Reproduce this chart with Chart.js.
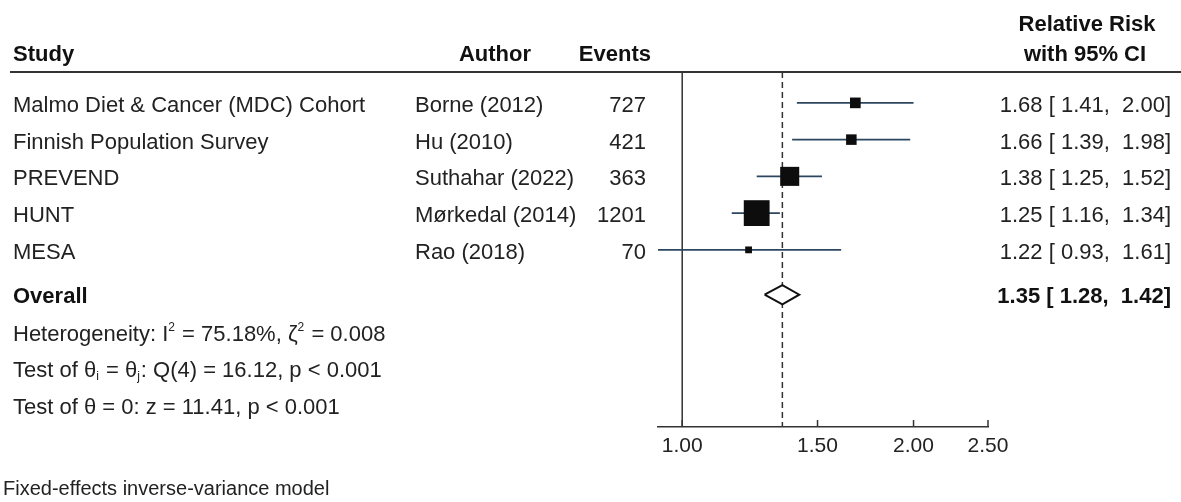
<!DOCTYPE html>
<html>
<head>
<meta charset="utf-8">
<script src="https://cdn.jsdelivr.net/npm/chart.js@4.4.1/dist/chart.umd.min.js"></script>
<style>
  html, body { margin: 0; padding: 0; background: #ffffff; }
  canvas { display: block; }
</style>
</head>
<body>
<canvas id="forest" width="1181" height="502"></canvas>
<script>
// Study rows
const studies = ['Malmo Diet & Cancer (MDC) Cohort', 'Finnish Population Survey', 'PREVEND', 'HUNT', 'MESA'];
const authors = ['Borne (2012)', 'Hu (2010)', 'Suthahar (2022)', 'Mørkedal (2014)', 'Rao (2018)'];
const events = [727, 421, 363, 1201, 70];
const riskRatio = [1.68, 1.66, 1.38, 1.25, 1.22];
const ciLower = [1.41, 1.39, 1.25, 1.16, 0.93];
const ciUpper = [2.00, 1.98, 1.52, 1.34, 1.61];

// Pooled estimate
const overallLabel = 'Overall';
const overallRR = 1.35;
const overallLower = 1.28;
const overallUpper = 1.42;

// Axis
const tickValues = [1, 1.5, 2, 2.5];
const tickLabels = ['1.00', '1.50', '2.00', '2.50'];

// Column headers and footnotes
const headerStudy = 'Study';
const headerAuthor = 'Author';
const headerEvents = 'Events';
const headerEffect = ['Relative Risk', 'with 95% CI'];
const statLines = [
  [['Heterogeneity: I'], ['2', 'sup'], [' = 75.18%, ζ'], ['2', 'sup'], [' = 0.008']],
  [['Test of θ'], ['i', 'sub'], [' = θ'], ['j', 'sub'], [': Q(4) = 16.12, p < 0.001']],
  [['Test of θ = 0: z = 11.41, p < 0.001']]
];
const modelNote = 'Fixed-effects inverse-variance model';

// ---- layout / style ----
const FONT = '"Liberation Sans", Arial, Helvetica, sans-serif';
const TEXT = '#222222';
const BOLD = '#111111';
const LINE = '#333333';
const CI_COLOR = '#2c4660';
const Y_MIN = -0.84, Y_MAX = 8.82;      // row units, row 0 at top
const OVERALL_ROW = 5.22;
const STATS_ROW = 6.25;
const DIAMOND_HALF = 0.26;

const fmt = v => v.toFixed(2);
const effectText = (e, l, u) => `${fmt(e)} [ ${fmt(l)},  ${fmt(u)}]`;

// marker side proportional to sqrt of inverse-variance weight
const markerRadius = riskRatio.map((_, i) => {
  const se = (Math.log(ciUpper[i]) - Math.log(ciLower[i])) / (2 * 1.959964);
  const side = 0.95 / se;
  return side / Math.SQRT2;
});

const ciDatasets = riskRatio.map((_, i) => ({
  type: 'line',
  data: [{ x: ciLower[i], y: i }, { x: ciUpper[i], y: i }],
  borderColor: CI_COLOR,
  borderWidth: 1.6,
  pointRadius: 0,
  fill: false,
  order: 2
}));

const datasets = [
  {
    type: 'line',
    label: 'studies',
    data: riskRatio.map((v, i) => ({ x: v, y: i })),
    showLine: false,
    pointStyle: 'rect',
    pointRadius: markerRadius,
    pointBackgroundColor: '#0d0d0d',
    pointBorderWidth: 0,
    order: 0
  },
  {
    type: 'line',
    label: 'overall',
    data: [
      { x: overallLower, y: OVERALL_ROW },
      { x: overallRR, y: OVERALL_ROW - DIAMOND_HALF },
      { x: overallUpper, y: OVERALL_ROW },
      { x: overallRR, y: OVERALL_ROW + DIAMOND_HALF },
      { x: overallLower, y: OVERALL_ROW }
    ],
    borderColor: '#111111',
    borderWidth: 2,
    backgroundColor: '#ffffff',
    fill: 'shape',
    tension: 0,
    pointRadius: 0,
    order: 1
  },
  ...ciDatasets,
  {
    type: 'line',
    label: 'pooled reference',
    data: [{ x: overallRR, y: Y_MIN }, { x: overallRR, y: Y_MAX }],
    borderColor: LINE,
    borderWidth: 1.5,
    borderDash: [6, 4],
    pointRadius: 0,
    fill: false,
    order: 3
  },
  {
    type: 'line',
    label: 'no effect',
    data: [{ x: 1, y: Y_MIN }, { x: 1, y: Y_MAX }],
    borderColor: LINE,
    borderWidth: 1.5,
    pointRadius: 0,
    fill: false,
    order: 4
  }
];

function drawRich(ctx, segs, x, y, size, weight) {
  ctx.textAlign = 'left';
  ctx.textBaseline = 'alphabetic';
  let cx = x;
  for (const [t, kind] of segs) {
    let s = size, dy = 0;
    if (kind === 'sup') { s = Math.round(size * 0.55); dy = -size * 0.42; }
    if (kind === 'sub') { s = Math.round(size * 0.55); dy = size * 0.12; }
    ctx.font = `${weight} ${s}px ${FONT}`;
    ctx.fillText(t, cx, y + dy);
    cx += ctx.measureText(t).width + (kind ? 1 : 0);
  }
}

const forestText = {
  id: 'forestText',
  afterDraw(chart) {
    const { ctx, scales: { x, y } } = chart;
    const area = chart.chartArea;
    ctx.save();

    // header rule
    ctx.strokeStyle = LINE;
    ctx.lineWidth = 2;
    ctx.beginPath();
    ctx.moveTo(10, area.top);
    ctx.lineTo(chart.width, area.top);
    ctx.stroke();

    // inward tick marks on the x axis
    ctx.lineWidth = 1.5;
    tickValues.forEach(v => {
      const px = x.getPixelForValue(v);
      ctx.beginPath();
      ctx.moveTo(px, area.bottom);
      ctx.lineTo(px, area.bottom - 7);
      ctx.stroke();
    });

    // headers
    ctx.fillStyle = BOLD;
    ctx.font = `bold 22px ${FONT}`;
    ctx.textBaseline = 'alphabetic';
    ctx.textAlign = 'left';
    ctx.fillText(headerStudy, 13, 61);
    ctx.textAlign = 'center';
    ctx.fillText(headerAuthor, 495, 61);
    ctx.textAlign = 'right';
    ctx.fillText(headerEvents, 651, 61);
    ctx.textAlign = 'center';
    ctx.fillText(headerEffect[0], 1087, 31);
    ctx.fillText(headerEffect[1], 1085, 61);

    // study rows
    ctx.fillStyle = TEXT;
    ctx.font = `22px ${FONT}`;
    studies.forEach((name, i) => {
      const base = y.getPixelForValue(i) + 9;
      ctx.textAlign = 'left';
      ctx.fillText(name, 13, base);
      ctx.fillText(authors[i], 415, base);
      ctx.textAlign = 'right';
      ctx.fillText(String(events[i]), 646, base);
      ctx.fillText(effectText(riskRatio[i], ciLower[i], ciUpper[i]), 1171, base);
    });

    // overall row
    const ob = y.getPixelForValue(OVERALL_ROW) + 8;
    ctx.fillStyle = BOLD;
    ctx.font = `bold 22px ${FONT}`;
    ctx.textAlign = 'left';
    ctx.fillText(overallLabel, 13, ob);
    ctx.textAlign = 'right';
    ctx.fillText(effectText(overallRR, overallLower, overallUpper), 1171, ob);

    // heterogeneity and tests
    ctx.fillStyle = TEXT;
    statLines.forEach((segs, i) => {
      drawRich(ctx, segs, 13, y.getPixelForValue(STATS_ROW + i) + 8, 22, 'normal');
    });

    // model note
    ctx.font = `20px ${FONT}`;
    ctx.textAlign = 'left';
    ctx.fillText(modelNote, 3, 495);

    ctx.restore();
  }
};

new Chart(document.getElementById('forest'), {
  type: 'line',
  data: { datasets },
  options: {
    responsive: false,
    animation: false,
    events: [],
    layout: { padding: { left: 658, right: 193, top: 72, bottom: 35 } },
    plugins: { legend: { display: false }, tooltip: { enabled: false }, title: { display: false } },
    scales: {
      x: {
        type: 'logarithmic',
        position: 'bottom',
        min: 0.93,
        max: 2.5,
        bounds: 'data',
        grid: { display: false, drawTicks: false },
        border: { display: true, color: LINE, width: 1.5 },
        afterBuildTicks: scale => { scale.ticks = tickValues.map(v => ({ value: v })); },
        afterFit: scale => { scale.height = 40; },
        ticks: {
          autoSkip: false,
          maxRotation: 0,
          minRotation: 0,
          padding: 7,
          color: TEXT,
          font: { family: FONT, size: 21 },
          callback: (value, index) => tickLabels[index]
        }
      },
      y: {
        type: 'linear',
        display: false,
        reverse: true,
        min: Y_MIN,
        max: Y_MAX,
        bounds: 'data'
      }
    }
  },
  plugins: [forestText]
});
</script>
</body>
</html>
